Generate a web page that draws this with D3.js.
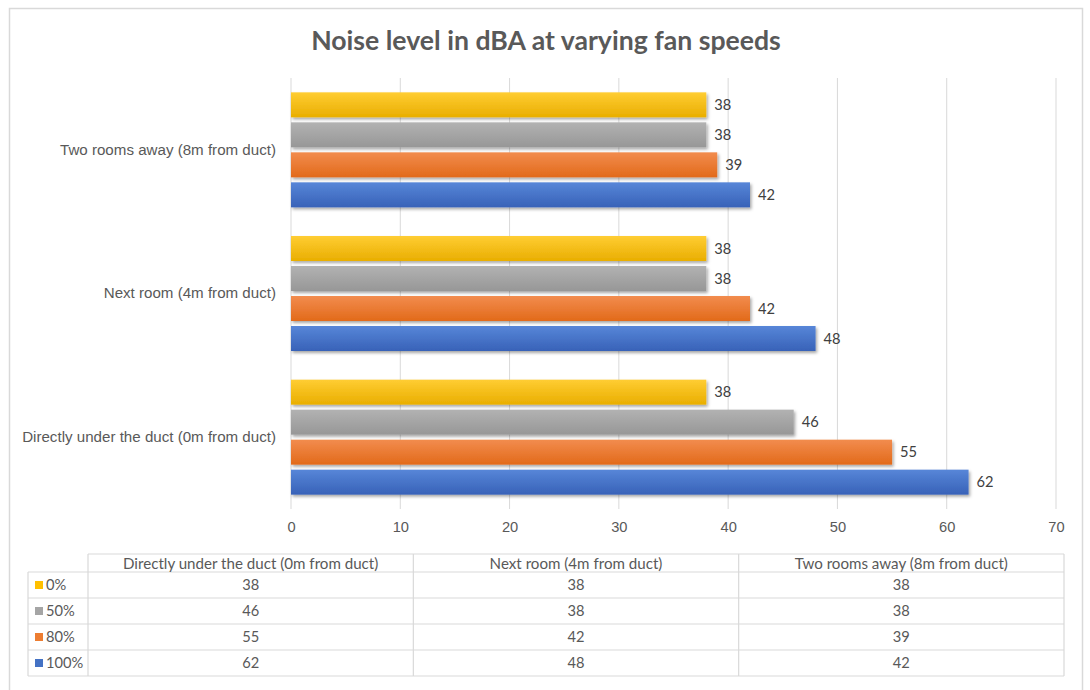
<!DOCTYPE html>
<html>
<head>
<meta charset="utf-8">
<script src="https://cdn.jsdelivr.net/npm/d3@7/dist/d3.min.js"></script>
<style>
  html, body { margin: 0; padding: 0; background: #fff; }
  svg { display: block; font-family: Lato, "Open Sans", "Liberation Sans", sans-serif; }
</style>
</head>
<body>
<svg id="chart" width="1090" height="690"></svg>
<script>
// Measurement locations (bar groups), listed top to bottom on the chart
const locations = [
  "Two rooms away (8m from duct)",
  "Next room (4m from duct)",
  "Directly under the duct (0m from duct)"
];
// Locations in table column order
const tableColumns = [
  "Directly under the duct (0m from duct)",
  "Next room (4m from duct)",
  "Two rooms away (8m from duct)"
];
// Fan speed series, top bar to bottom bar within each group
const fanSpeeds = ["0%", "50%", "80%", "100%"];
const speedColors = ["#FFC000", "#A5A5A5", "#ED7D31", "#4472C4"];

// Noise in dBA per fan speed, in tableColumns order
const noise0   = [38, 38, 38];
const noise50  = [46, 38, 38];
const noise80  = [55, 42, 39];
const noise100 = [62, 48, 42];
const seriesValues = [noise0, noise50, noise80, noise100];

const xTicks = [0, 10, 20, 30, 40, 50, 60, 70];
const chartTitle = "Noise level in dBA at varying fan speeds";

const svg = d3.select("#chart");
const grey = "#595959";

// Scale a text selection's font size so its widest item spans `target` px
function fitWidth(sel, target) {
  let w = 0;
  sel.each(function () { w = Math.max(w, this.getComputedTextLength()); });
  const fs = parseFloat(sel.attr("font-size"));
  const size = fs * target / w;
  sel.attr("font-size", size);
  return size;
}

// Outer chart frame
svg.append("rect")
  .attr("x", 9.5).attr("y", 8.5).attr("width", 1073).attr("height", 700)
  .attr("fill", "#fff").attr("stroke", "#D9D9D9").attr("stroke-width", 1.5);

// Bar gradients and shadow
const defs = svg.append("defs");
const shades = [
  ["#FFCD33", "#E9AE00"],
  ["#B2B2B2", "#979797"],
  ["#F28C4E", "#E26A1A"],
  ["#5786D8", "#3862B8"]
];
shades.forEach((s, i) => {
  const g = defs.append("linearGradient").attr("id", "grad" + i)
    .attr("x1", 0).attr("y1", 0).attr("x2", 0).attr("y2", 1);
  g.append("stop").attr("offset", "0%").attr("stop-color", s[0]);
  g.append("stop").attr("offset", "100%").attr("stop-color", s[1]);
});
const f = defs.append("filter").attr("id", "shadow")
  .attr("x", "-5%").attr("y", "-30%").attr("width", "110%").attr("height", "170%");
f.append("feDropShadow").attr("dx", 1.5).attr("dy", 2).attr("stdDeviation", 1.4)
  .attr("flood-color", "#000").attr("flood-opacity", 0.35);

// Title
const title = svg.append("text")
  .attr("x", 546).attr("y", 50)
  .attr("text-anchor", "middle")
  .attr("font-size", 24).attr("font-weight", "bold")
  .attr("fill", grey)
  .text(chartTitle);
fitWidth(title, 470);

// Scales
const x = d3.scaleLinear().domain([0, 70]).range([291, 1056]);
const y0 = d3.scaleBand().domain(locations).range([78, 509]);
const y1 = d3.scaleBand().domain(fanSpeeds)
  .range([0, y0.bandwidth()]).paddingInner(1 / 6).paddingOuter(0.478);

// Vertical gridlines
svg.append("g").selectAll("line").data(xTicks).join("line")
  .attr("x1", d => x(d)).attr("x2", d => x(d))
  .attr("y1", 78).attr("y2", 509)
  .attr("stroke", "#D9D9D9").attr("stroke-width", 1);

// Category labels
const yAxis = d3.axisLeft(y0).tickSize(0).tickPadding(0);
const yg = svg.append("g").attr("transform", "translate(276,0)").call(yAxis);
yg.select(".domain").remove();
const catLabels = yg.selectAll("text").attr("font-size", 14).attr("fill", grey)
  .attr("font-family", null);
const labelSize = fitWidth(catLabels, 254);
const numSize = labelSize * 0.97;

// X axis tick labels
const xAxis = d3.axisBottom(x).tickValues(xTicks).tickSize(0).tickPadding(0);
const xg = svg.append("g").attr("transform", "translate(0,522)").call(xAxis);
xg.select(".domain").remove();
xg.selectAll("text").attr("font-size", numSize).attr("fill", grey)
  .attr("font-family", null).attr("dy", "0.71em");

// Bars
const colIndex = name => tableColumns.indexOf(name);
const barData = [];
locations.forEach(loc => {
  fanSpeeds.forEach((sp, si) => {
    barData.push({ loc, sp, si, v: seriesValues[si][colIndex(loc)] });
  });
});

svg.append("g").selectAll("rect").data(barData).join("rect")
  .attr("x", x(0))
  .attr("y", d => y0(d.loc) + y1(d.sp))
  .attr("width", d => x(d.v) - x(0))
  .attr("height", y1.bandwidth())
  .attr("fill", d => `url(#grad${d.si})`)
  .attr("filter", "url(#shadow)");

// Value labels
svg.append("g").selectAll("text").data(barData).join("text")
  .attr("x", d => x(d.v) + 8)
  .attr("y", d => y0(d.loc) + y1(d.sp) + y1.bandwidth() / 2)
  .attr("dy", "0.35em")
  .attr("font-size", numSize).attr("fill", "#404040")
  .text(d => d.v);

// Data table under the chart
const tLeft = 28, tKeyRight = 88, tRight = 1064;
const tTop = 554, headBottom = 572, rowH = 26;
const colX = d3.scaleBand().domain(tableColumns).range([tKeyRight, tRight]);
const rowY = d3.scaleBand().domain(fanSpeeds)
  .range([headBottom, headBottom + rowH * fanSpeeds.length]);
const tBottom = headBottom + rowH * fanSpeeds.length;
const table = svg.append("g").attr("stroke", "#D9D9D9").attr("stroke-width", 1.2);

// horizontal rules
table.append("line").attr("x1", tKeyRight).attr("x2", tRight).attr("y1", tTop).attr("y2", tTop);
fanSpeeds.forEach(sp => {
  table.append("line").attr("x1", tLeft).attr("x2", tRight)
    .attr("y1", rowY(sp)).attr("y2", rowY(sp));
});
table.append("line").attr("x1", tLeft).attr("x2", tRight).attr("y1", tBottom).attr("y2", tBottom);
// vertical rules
table.append("line").attr("x1", tLeft).attr("x2", tLeft).attr("y1", headBottom).attr("y2", tBottom);
tableColumns.forEach(c => {
  table.append("line").attr("x1", colX(c)).attr("x2", colX(c)).attr("y1", tTop).attr("y2", tBottom);
});
table.append("line").attr("x1", tRight).attr("x2", tRight).attr("y1", tTop).attr("y2", tBottom);

// header text
svg.append("g").selectAll("text").data(tableColumns).join("text")
  .attr("x", d => colX(d) + colX.bandwidth() / 2)
  .attr("y", (tTop + headBottom) / 2 + 0.5)
  .attr("dy", "0.35em").attr("text-anchor", "middle")
  .attr("font-size", labelSize).attr("fill", grey)
  .text(d => d);

// legend keys and row labels
const rows = svg.append("g");
fanSpeeds.forEach((sp, si) => {
  const cy = rowY(sp) + rowY.bandwidth() / 2;
  rows.append("rect").attr("x", 35).attr("y", cy - 4).attr("width", 8).attr("height", 8)
    .attr("fill", speedColors[si]);
  rows.append("text").attr("x", 46).attr("y", cy).attr("dy", "0.35em")
    .attr("font-size", numSize).attr("fill", grey).text(sp);
  tableColumns.forEach((c, ci) => {
    rows.append("text")
      .attr("x", colX(c) + colX.bandwidth() / 2).attr("y", cy).attr("dy", "0.35em")
      .attr("text-anchor", "middle").attr("font-size", numSize).attr("fill", grey)
      .text(seriesValues[si][ci]);
  });
});
</script>
</body>
</html>
